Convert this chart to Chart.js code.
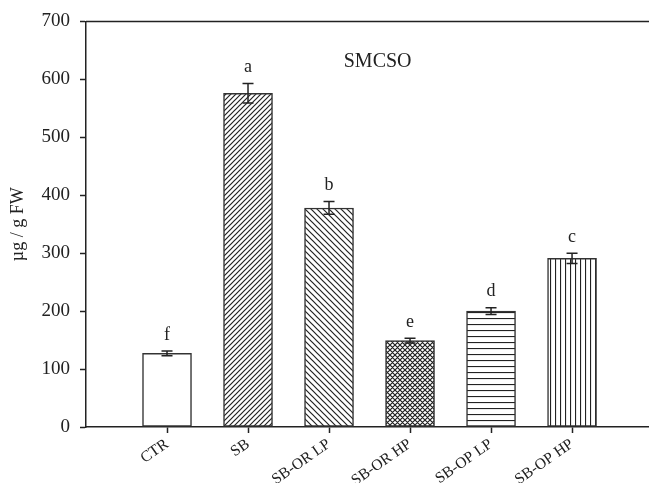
<html>

<head>
    <script src="https://cdn.jsdelivr.net/npm/chart.js@4.4.0/dist/chart.umd.min.js"></script>

    <style>
        body {
            margin: 0;
            background-color: #ffffff;
        }

        #wrap {
            width: 649px;
            height: 483px;
        }
    </style>

</head>

<body>
    <div id="wrap"><canvas id="myChart"></canvas></div>
</body>
<script>

    // data
    var treatments = ['CTR', 'SB', 'SB-OR LP', 'SB-OR HP', 'SB-OP LP', 'SB-OP HP'];
    var positions = [1, 2, 3, 4, 5, 6];
    var smcso = [127, 576, 378, 149, 200, 291];
    var errors = [4, 17, 11, 4, 6, 9];
    var letters = ['f', 'a', 'b', 'e', 'd', 'c'];
    var yTicks = [0, 100, 200, 300, 400, 500, 600, 700];

    var serif = "'Liberation Serif', 'DejaVu Serif', serif";
    var ink = '#222222';

    function makePattern(kind, size) {
        var c = document.createElement('canvas');
        c.width = size;
        c.height = size;
        var g = c.getContext('2d');
        g.fillStyle = '#ffffff';
        g.fillRect(0, 0, size, size);
        g.strokeStyle = ink;
        g.lineWidth = 1.2;
        g.beginPath();
        if (kind == 'up' || kind == 'cross') {
            g.moveTo(-1, size + 1); g.lineTo(size + 1, -1);
            g.moveTo(-1, 1); g.lineTo(1, -1);
            g.moveTo(size - 1, size + 1); g.lineTo(size + 1, size - 1);
        }
        if (kind == 'down' || kind == 'cross') {
            g.moveTo(-1, -1); g.lineTo(size + 1, size + 1);
            g.moveTo(size - 1, -1); g.lineTo(size + 1, 1);
            g.moveTo(-1, size - 1); g.lineTo(1, size + 1);
        }
        if (kind == 'horiz') {
            g.moveTo(0, 0.5); g.lineTo(size, 0.5);
        }
        if (kind == 'vert') {
            g.moveTo(0.5, 0); g.lineTo(0.5, size);
        }
        g.stroke();
        return g.createPattern(c, 'repeat');
    }

    var fills = [
        '#ffffff',
        makePattern('up', 5),
        makePattern('down', 6),
        makePattern('cross', 5),
        makePattern('horiz', 6),
        makePattern('vert', 5)
    ];

    var barData = [];
    for (var i = 0; i < smcso.length; i++) {
        barData.push({ x: positions[i], y: smcso[i] });
    }

    // error bars, letters and the top frame line
    var extras = {
        id: 'extras',
        afterDatasetsDraw: function (chart) {
            var ctx = chart.ctx;
            var xs = chart.scales.x;
            var ys = chart.scales.y;
            var area = chart.chartArea;

            ctx.save();
            ctx.strokeStyle = ink;
            ctx.lineWidth = 1.5;
            ctx.beginPath();
            ctx.moveTo(area.left, area.top);
            ctx.lineTo(chart.width, area.top);
            ctx.stroke();

            ctx.fillStyle = ink;
            ctx.font = '18px ' + serif;
            ctx.textAlign = 'center';
            ctx.textBaseline = 'middle';
            for (var i = 0; i < smcso.length; i++) {
                var x = xs.getPixelForValue(positions[i]);
                var hi = ys.getPixelForValue(smcso[i] + errors[i]);
                var lo = ys.getPixelForValue(smcso[i] - errors[i]);
                ctx.beginPath();
                ctx.moveTo(x, hi); ctx.lineTo(x, lo);
                ctx.moveTo(x - 5.5, hi); ctx.lineTo(x + 5.5, hi);
                ctx.moveTo(x - 5.5, lo); ctx.lineTo(x + 5.5, lo);
                ctx.stroke();
                ctx.fillText(letters[i], x, hi - 16);
            }

            ctx.font = '20px ' + serif;
            ctx.fillText('SMCSO', xs.getPixelForValue(3.6), 62);
            ctx.restore();
        }
    };

    var paintingCanvas = document.getElementById('myChart').getContext('2d');
    var chart = new Chart(paintingCanvas, {
        type: 'bar',
        data: {
            datasets: [{
                data: barData,
                backgroundColor: fills,
                borderColor: '#333333',
                borderWidth: 1.5,
                borderSkipped: false,
                barThickness: 49
            }]
        },
        options: {
            responsive: true,
            maintainAspectRatio: false,
            animation: false,
            layout: { padding: { top: 20, right: 0, left: 0, bottom: 0 } },
            plugins: {
                legend: { display: false },
                tooltip: { enabled: false }
            },
            scales: {
                x: {
                    type: 'linear',
                    min: 0,
                    max: 6.95,
                    offset: false,
                    afterBuildTicks: function (scale) {
                        scale.ticks = positions.map(function (p) { return { value: p }; });
                    },
                    afterFit: function (scale) { scale.height = 56; },
                    grid: { offset: false, drawOnChartArea: false, tickLength: 6, tickColor: ink, tickWidth: 1.5 },
                    border: { color: ink, width: 1.5 },
                    ticks: {
                        autoSkip: false,
                        minRotation: 35,
                        maxRotation: 35,
                        padding: 2,
                        color: ink,
                        font: { family: serif, size: 15.5 },
                        callback: function (value) { return treatments[value - 1]; }
                    }
                },
                y: {
                    min: 0,
                    max: 700,
                    afterBuildTicks: function (scale) {
                        scale.ticks = yTicks.map(function (v) { return { value: v }; });
                    },
                    afterFit: function (scale) { scale.width = 86; },
                    grid: { drawOnChartArea: false, tickLength: 6, tickColor: ink, tickWidth: 1.5 },
                    border: { color: ink, width: 1.5 },
                    ticks: {
                        padding: 10,
                        color: ink,
                        font: { family: serif, size: 19 }
                    },
                    title: {
                        display: true,
                        text: 'µg / g FW',
                        color: ink,
                        font: { family: serif, size: 18 },
                        padding: { top: 7, bottom: 0 }
                    }
                }
            }
        },
        plugins: [extras]
    });

</script>

</html>
